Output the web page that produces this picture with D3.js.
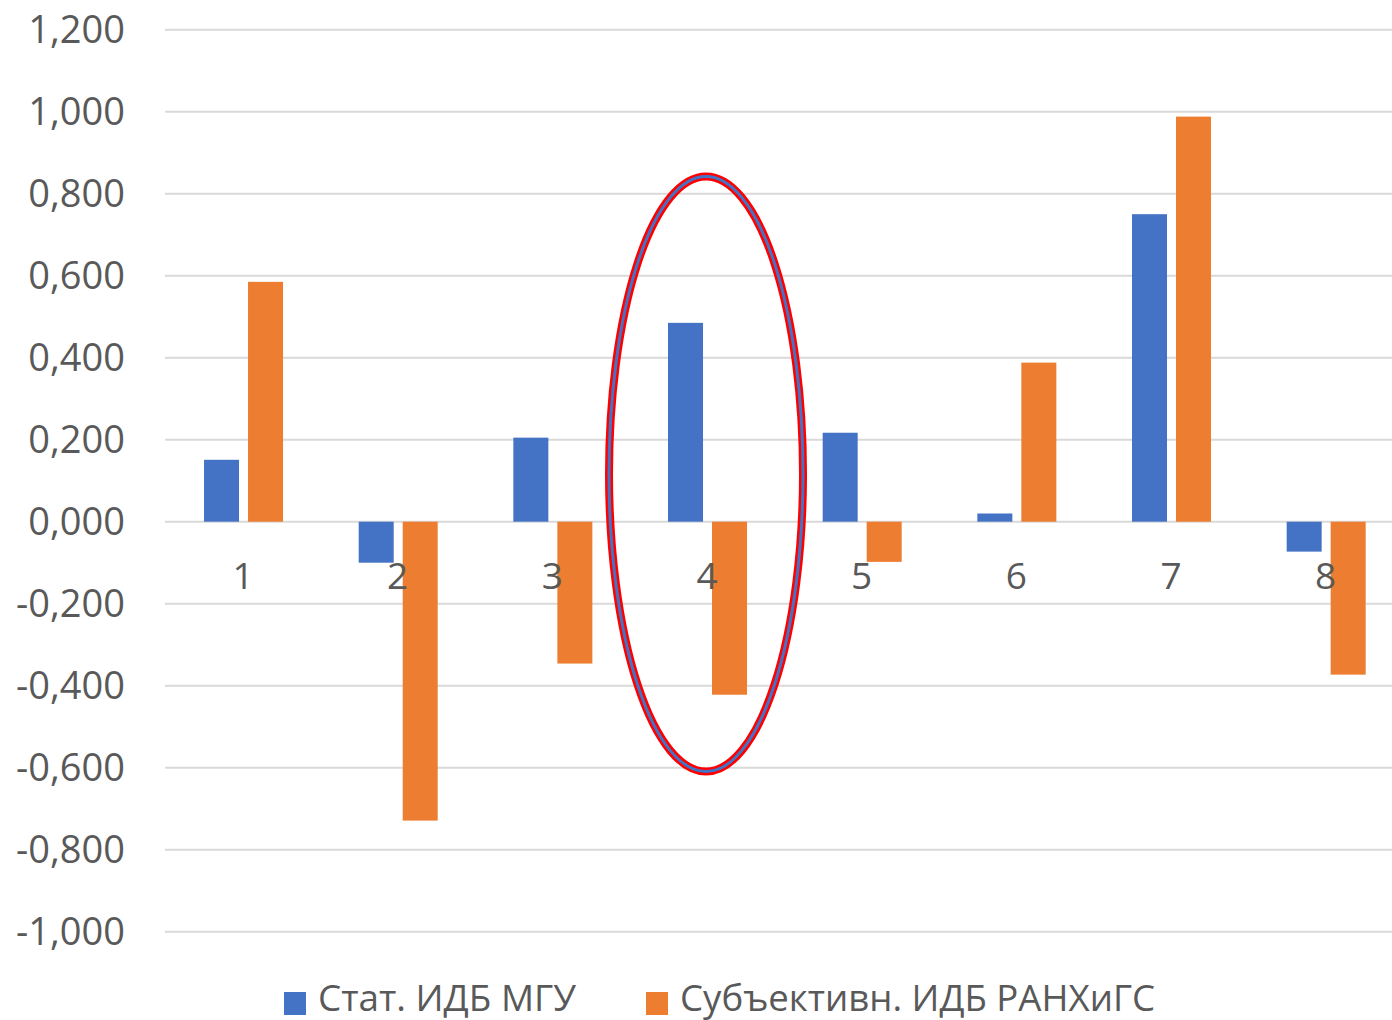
<!DOCTYPE html>
<html><head><meta charset="utf-8">
<script src="https://cdn.jsdelivr.net/npm/d3@7"></script>
<style>body{margin:0;background:#fff;} svg{display:block;}</style>
</head><body>
<svg id="c" width="1392" height="1020"></svg>
<script>
const categories = ["1","2","3","4","5","6","7","8"];
const seriesNames = ["Стат. ИДБ МГУ", "Субъективн. ИДБ РАНХиГС"];
const statMSU = [0.151, -0.100, 0.205, 0.485, 0.217, 0.020, 0.750, -0.073];
const subjRANEPA = [0.585, -0.729, -0.346, -0.422, -0.098, 0.388, 0.988, -0.373];
const yTicks = [1.2, 1.0, 0.8, 0.6, 0.4, 0.2, 0, -0.2, -0.4, -0.6, -0.8, -1.0];
const highlightCategory = "4";

const colors = ["#4472C4", "#ED7D31"];
const svg = d3.select("#c");
const font = "'Open Sans', 'DejaVu Sans', sans-serif";

const x = d3.scaleBand().domain(categories).range([165.7, 1403]);
const y = d3.scaleLinear().domain([-1.0, 1.2]).range([931.7, 29.7]);

// gridlines
svg.append("g").selectAll("line").data(yTicks).join("line")
  .attr("x1", 165).attr("x2", 1392)
  .attr("y1", d => y(d)).attr("y2", d => y(d))
  .attr("stroke", "#d9d9d9").attr("stroke-width", 2);

// y tick labels
svg.append("g").selectAll("text").data(yTicks).join("text")
  .attr("x", 125).attr("y", d => y(d))
  .attr("dy", "0.36em")
  .attr("text-anchor", "end")
  .attr("font-family", font).attr("font-size", 38)
  .attr("fill", "#595959")
  .text(d => {
    const s = Math.abs(d).toFixed(3).replace(".", ",");
    return (d < 0 ? "-" : "") + s;
  });

const bw = 35;
const offsets = [-39, 5];
[statMSU, subjRANEPA].forEach((vals, si) => {
  svg.append("g").selectAll("rect").data(vals).join("rect")
    .attr("x", (d, i) => x(categories[i]) + x.bandwidth() / 2 + offsets[si])
    .attr("width", bw)
    .attr("y", d => Math.min(y(d), y(0)))
    .attr("height", d => Math.abs(y(d) - y(0)))
    .attr("fill", colors[si]);
});

// category labels
svg.append("g").selectAll("text").data(categories).join("text")
  .attr("x", d => x(d) + x.bandwidth() / 2)
  .attr("y", 589)
  .attr("text-anchor", "middle")
  .attr("font-family", font).attr("font-size", 37)
  .attr("fill", "#595959")
  .text(d => d);

// highlight ellipse
const cx = x(highlightCategory) + x.bandwidth() / 2 - 1;
const ell = svg.append("g");
ell.append("ellipse").attr("cx", cx).attr("cy", 474).attr("rx", 97).attr("ry", 297.5)
  .attr("fill", "none").attr("stroke", "#FF0000").attr("stroke-width", 8);
ell.append("ellipse").attr("cx", cx).attr("cy", 474).attr("rx", 97).attr("ry", 297.5)
  .attr("fill", "none").attr("stroke", "#4472C4").attr("stroke-width", 3);

// legend
const legend = [{x: 284, tx: 318, w: 258}, {x: 646, tx: 680, w: 475}];
legend.forEach((l, i) => {
  svg.append("rect").attr("x", l.x).attr("y", 992).attr("width", 22).attr("height", 23).attr("fill", colors[i]);
  svg.append("text").attr("x", l.tx).attr("y", 1011)
    .attr("font-family", font).attr("font-size", 36)
    .attr("fill", "#595959")
    .attr("textLength", l.w).attr("lengthAdjust", "spacingAndGlyphs")
    .text(seriesNames[i]);
});
</script>
</body></html>
